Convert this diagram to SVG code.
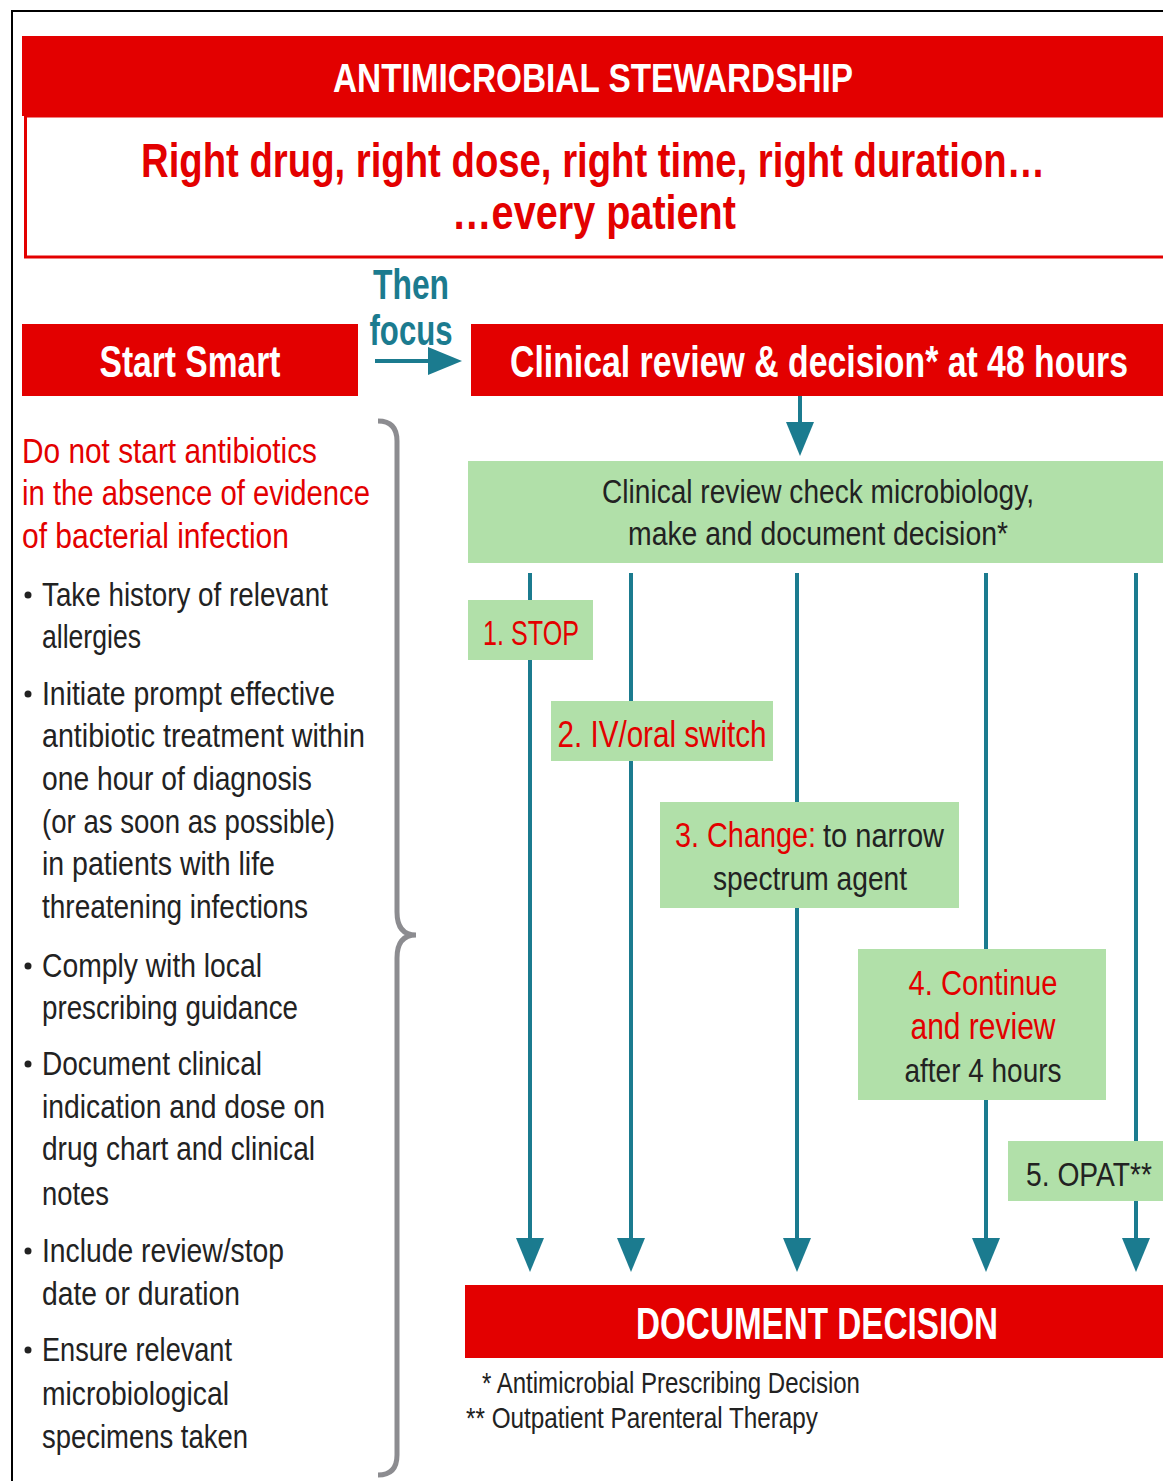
<svg xmlns="http://www.w3.org/2000/svg" width="1163" height="1481" viewBox="0 0 1163 1481">
<style>
text{font-family:"Liberation Sans",Arial,"Noto Sans",sans-serif}
.red{fill:#e30000}
.green{fill:#b1e0a9}
.wb{fill:#fff;font-weight:bold}
.rt{fill:#e30000}
.dk{fill:#222}
.mid{text-anchor:middle}
.teal{fill:#1b7b8f;font-weight:bold}
.conn{stroke:#1b7b8f;stroke-width:4;fill:none}
</style>
<defs>
<marker id="ah" viewBox="0 0 34 28" refX="12" refY="14" markerWidth="34" markerHeight="28" markerUnits="userSpaceOnUse" orient="auto">
<path d="M0,0 L34,14 L0,28 z" fill="#1b7b8f"/>
</marker>
</defs>
<rect x="0" y="0" width="1163" height="1481" fill="#fff"/>
<path d="M12,1481 V11 H1163" stroke="#000" stroke-width="2" fill="none"/>

<g id="connectors">
<line class="conn" x1="375" y1="361" x2="440" y2="361" marker-end="url(#ah)"/>
<line class="conn" x1="800" y1="396" x2="800" y2="434" marker-end="url(#ah)"/>
<line class="conn" x1="530" y1="573" x2="530" y2="1250" marker-end="url(#ah)"/>
<line class="conn" x1="631" y1="573" x2="631" y2="1250" marker-end="url(#ah)"/>
<line class="conn" x1="797" y1="573" x2="797" y2="1250" marker-end="url(#ah)"/>
<line class="conn" x1="986" y1="573" x2="986" y2="1250" marker-end="url(#ah)"/>
<line class="conn" x1="1136" y1="573" x2="1136" y2="1250" marker-end="url(#ah)"/>
</g>

<g id="header">
<rect class="red" x="22" y="36" width="1141" height="80"/>
<text class="wb mid" transform="translate(593,92) scale(1,1.205)" font-size="33.2" textLength="520" lengthAdjust="spacingAndGlyphs">ANTIMICROBIAL STEWARDSHIP</text>
</g>
<g id="motto">
<rect x="25.5" y="116" width="1140" height="141" fill="#fff" stroke="#e30000" stroke-width="3"/>
<text class="rt mid" transform="translate(593,177) scale(1,1.254)" font-size="38.3" font-weight="bold" textLength="904" lengthAdjust="spacingAndGlyphs">Right drug, right dose, right time, right duration…</text>
<text class="rt mid" transform="translate(594,229) scale(1,1.212)" font-size="39.6" font-weight="bold" textLength="284" lengthAdjust="spacingAndGlyphs">…every patient</text>
</g>

<g id="then-focus">
<text class="teal mid" transform="translate(411,299) scale(1,1.32)" font-size="31.8" textLength="76" lengthAdjust="spacingAndGlyphs">Then</text>
<text class="teal mid" transform="translate(411,345) scale(1,1.35)" font-size="31.1" textLength="83" lengthAdjust="spacingAndGlyphs">focus</text>
</g>

<g id="start-smart">
<rect class="red" x="22" y="324" width="336" height="72"/>
<text class="wb mid" transform="translate(190,377) scale(1,1.31)" font-size="33.6" textLength="181" lengthAdjust="spacingAndGlyphs">Start Smart</text>
</g>

<g id="clinical-review-header">
<rect class="red" x="471" y="324" width="692" height="72"/>
<text class="wb mid" transform="translate(819,377) scale(1,1.3)" font-size="33.8" textLength="618" lengthAdjust="spacingAndGlyphs">Clinical review &amp; decision* at 48 hours</text>
</g>

<g id="review-box">
<rect class="green" x="468" y="461" width="695" height="102"/>
<text class="dk mid" transform="translate(818,503) scale(1,1.216)" font-size="28" textLength="432" lengthAdjust="spacingAndGlyphs">Clinical review check microbiology,</text>
<text class="dk mid" transform="translate(818,545) scale(1,1.198)" font-size="28.4" textLength="380" lengthAdjust="spacingAndGlyphs">make and document decision*</text>
</g>

<g id="start-smart-text">
<g fill="#222">
<circle cx="28" cy="595" r="3.5"/>
<circle cx="28" cy="694" r="3.5"/>
<circle cx="28" cy="966" r="3.5"/>
<circle cx="28" cy="1064" r="3.5"/>
<circle cx="28" cy="1251" r="3.5"/>
<circle cx="28" cy="1350" r="3.5"/>
</g>
<g transform="scale(1,1.153)">
<g class="rt" font-size="30.4">
<text x="22" y="401.6" textLength="295" lengthAdjust="spacingAndGlyphs">Do not start antibiotics</text>
<text x="22" y="438" textLength="348" lengthAdjust="spacingAndGlyphs">in the absence of evidence</text>
<text x="22" y="475.3" textLength="267" lengthAdjust="spacingAndGlyphs">of bacterial infection</text>
</g>
<g class="dk" font-size="29.5">
<text x="42" y="525.6" textLength="286" lengthAdjust="spacingAndGlyphs">Take history of relevant</text>
<text x="42" y="562" textLength="99" lengthAdjust="spacingAndGlyphs">allergies</text>
<text x="42" y="611.4" textLength="293" lengthAdjust="spacingAndGlyphs">Initiate prompt effective</text>
<text x="42" y="647.9" textLength="323" lengthAdjust="spacingAndGlyphs">antibiotic treatment within</text>
<text x="42" y="685.2" textLength="270" lengthAdjust="spacingAndGlyphs">one hour of diagnosis</text>
<text x="42" y="722.5" textLength="293" lengthAdjust="spacingAndGlyphs">(or as soon as possible)</text>
<text x="42" y="758.9" textLength="233" lengthAdjust="spacingAndGlyphs">in patients with life</text>
<text x="42" y="796.2" textLength="266" lengthAdjust="spacingAndGlyphs">threatening infections</text>
<text x="42" y="847.4" textLength="220" lengthAdjust="spacingAndGlyphs">Comply with local</text>
<text x="42" y="883.8" textLength="256" lengthAdjust="spacingAndGlyphs">prescribing guidance</text>
<text x="42" y="932.4" textLength="220" lengthAdjust="spacingAndGlyphs">Document clinical</text>
<text x="42" y="969.6" textLength="283" lengthAdjust="spacingAndGlyphs">indication and dose on</text>
<text x="42" y="1006.1" textLength="273" lengthAdjust="spacingAndGlyphs">drug chart and clinical</text>
<text x="42" y="1045.1" textLength="67" lengthAdjust="spacingAndGlyphs">notes</text>
<text x="42" y="1094.5" textLength="242" lengthAdjust="spacingAndGlyphs">Include review/stop</text>
<text x="42" y="1131.8" textLength="198" lengthAdjust="spacingAndGlyphs">date or duration</text>
<text x="42" y="1180.4" textLength="190" lengthAdjust="spacingAndGlyphs">Ensure relevant</text>
<text x="42" y="1218.6" textLength="187" lengthAdjust="spacingAndGlyphs">microbiological</text>
<text x="42" y="1255.9" textLength="206" lengthAdjust="spacingAndGlyphs">specimens taken</text>
</g>
</g>
</g>

<g id="brace">
<path d="M378,421 Q397,421 397,441 V912 Q397,935 416,935 Q397,935 397,958 V1455 Q397,1475 378,1475" stroke="#8c8c90" stroke-width="5" fill="none"/>
</g>

<g id="opt-stop">
<rect class="green" x="468" y="600" width="125" height="60"/>
<text class="rt mid" transform="translate(531,645) scale(1,1.44)" font-size="25" textLength="96" lengthAdjust="spacingAndGlyphs">1. STOP</text>
</g>
<g id="opt-switch">
<rect class="green" x="551" y="701" width="222" height="60"/>
<text class="rt mid" transform="translate(662,747) scale(1,1.216)" font-size="29.6" textLength="209" lengthAdjust="spacingAndGlyphs">2. IV/oral switch</text>
</g>
<g id="opt-change">
<rect class="green" x="660" y="802" width="299" height="106"/>
<text class="rt" transform="translate(675,847) scale(1,1.25)" font-size="28.8" textLength="141" lengthAdjust="spacingAndGlyphs">3. Change:</text>
<text class="dk" transform="translate(823,847) scale(1,1.17)" font-size="29" textLength="121" lengthAdjust="spacingAndGlyphs">to narrow</text>
<text class="dk mid" transform="translate(810,890) scale(1,1.208)" font-size="28.15" textLength="194" lengthAdjust="spacingAndGlyphs">spectrum agent</text>
</g>
<g id="opt-continue">
<rect class="green" x="858" y="949" width="248" height="151"/>
<text class="rt mid" transform="translate(983,995) scale(1,1.237)" font-size="29.1" textLength="149" lengthAdjust="spacingAndGlyphs">4. Continue</text>
<text class="rt mid" transform="translate(983,1039) scale(1,1.2)" font-size="30" textLength="145" lengthAdjust="spacingAndGlyphs">and review</text>
<text class="dk mid" transform="translate(983,1082) scale(1,1.216)" font-size="28" textLength="157" lengthAdjust="spacingAndGlyphs">after 4 hours</text>
</g>
<g id="opt-opat">
<rect class="green" x="1008" y="1141" width="155" height="60"/>
<text class="dk mid" transform="translate(1089,1186) scale(1,1.245)" font-size="27.3" textLength="126" lengthAdjust="spacingAndGlyphs">5. OPAT**</text>
</g>

<g id="document-decision">
<rect class="red" x="465" y="1285" width="698" height="73"/>
<text class="wb mid" transform="translate(817,1339) scale(1,1.325)" font-size="33.2" textLength="362" lengthAdjust="spacingAndGlyphs">DOCUMENT DECISION</text>
</g>

<g id="footnotes" class="dk">
<text transform="translate(482,1393) scale(1,1.25)" font-size="24" textLength="378" lengthAdjust="spacingAndGlyphs">* Antimicrobial Prescribing Decision</text>
<text transform="translate(466,1428) scale(1,1.237)" font-size="24.3" textLength="352" lengthAdjust="spacingAndGlyphs">** Outpatient Parenteral Therapy</text>
</g>
</svg>
